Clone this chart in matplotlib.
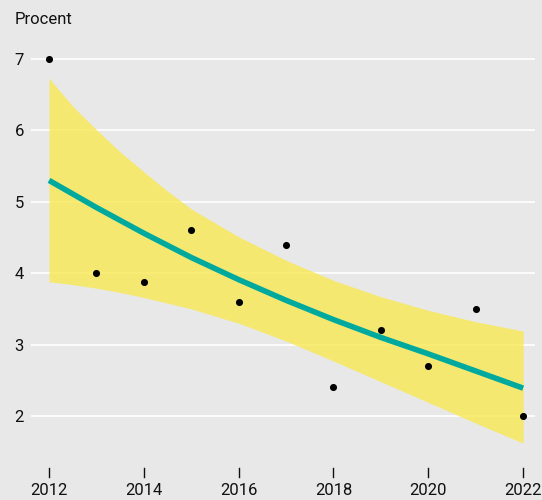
import numpy as np
import matplotlib
matplotlib.use("Agg")
import matplotlib.pyplot as plt

# ── data ───────────────────────────────────────────────────────────────────
years = [2012, 2013, 2014, 2015, 2016, 2017, 2018, 2019, 2020, 2021, 2022]
observed = [7.0, 4.0, 3.88, 4.6, 3.6, 4.4, 2.4, 3.2, 2.7, 3.5, 2.0]
trend = [5.30, 4.92, 4.56, 4.22, 3.91, 3.62, 3.35, 3.10, 2.87, 2.63, 2.39]

band_x = [2012, 2012.5, 2013, 2013.5, 2014, 2014.5, 2015, 2016, 2017,
          2018, 2019, 2020, 2021, 2022]
band_hi = [6.73, 6.34, 6.01, 5.70, 5.42, 5.15, 4.90, 4.51, 4.18,
           3.90, 3.67, 3.48, 3.32, 3.19]
band_lo = [3.88, 3.84, 3.79, 3.73, 3.66, 3.58, 3.50, 3.30, 3.05,
           2.77, 2.48, 2.19, 1.90, 1.62]

x_ticks = [2012, 2014, 2016, 2018, 2020, 2022]
y_ticks = [2, 3, 4, 5, 6, 7]

# ── style ──────────────────────────────────────────────────────────────────
BG = "#e8e8e8"
YELLOW = "#f8e952"
TEAL = "#00a99d"
INK = "#111111"
plt.rcParams["font.family"] = ["Roboto", "DejaVu Sans"]
FS = 12

W, H = 542, 500
fig = plt.figure(figsize=(W / 100, H / 100), dpi=100, facecolor=BG)
# axes placed in pixel terms: left 31, right 535, top 40, bottom 466
ax = fig.add_axes([31 / W, 1 - 466 / H, (535 - 31) / W, (466 - 40) / H])
ax.set_facecolor(BG)

PX = 71.4  # pixels per unit on y
ax.set_xlim(2011.62, 2022.25)
ax.set_ylim(2 - 50 / PX, 7 + 19 / PX)

ax.fill_between(band_x, band_lo, band_hi, color=YELLOW, alpha=0.8,
                linewidth=0, zorder=2)
ax.plot(years, trend, color=TEAL, lw=4, solid_capstyle="butt",
        solid_joinstyle="round", zorder=3)
ax.scatter(years, observed, s=26, color="black", linewidths=0, zorder=4)

ax.set_yticks(y_ticks)
ax.set_yticklabels([str(v) for v in y_ticks], fontsize=FS)
ax.set_xticks(x_ticks)
ax.set_xticklabels([str(v) for v in x_ticks], fontsize=FS)
ax.tick_params(axis="y", length=0, pad=5, colors=INK)
ax.tick_params(axis="x", length=0, pad=12, colors=INK)
for xt in x_ticks:
    ax.plot([xt, xt], [2 - 52 / PX, 2 - 61 / PX], color=INK,
            lw=1.0, clip_on=False, zorder=1)

ax.grid(axis="y", color="white", lw=1.2, zorder=1)
ax.set_axisbelow(True)
for s in ax.spines.values():
    s.set_visible(False)

fig.text(15 / W, 1 - 20 / H, "Procent", fontsize=FS, color=INK,
         ha="left", va="center")

fig.savefig("out.png", dpi=100, facecolor=BG)
